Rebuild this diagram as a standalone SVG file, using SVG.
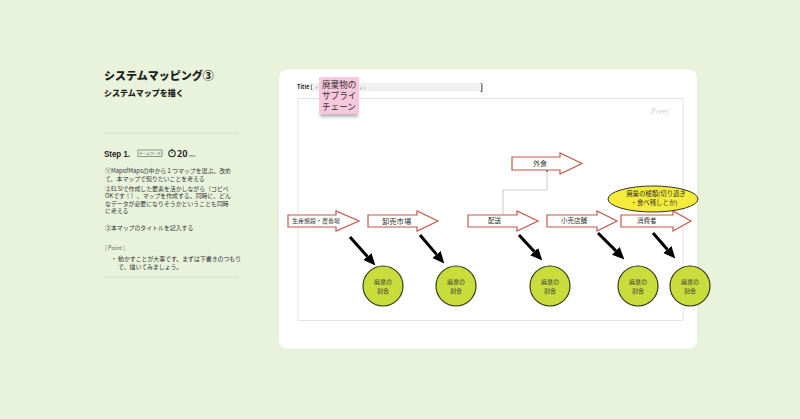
<svg xmlns="http://www.w3.org/2000/svg" width="800" height="419" viewBox="0 0 800 419">
<defs>
<style>
text{font-family:"Noto Sans CJK JP","Noto Sans",sans-serif;fill:#222}
.b{font-weight:bold}
.body{font-size:5.9px;fill:#333}
.flow{fill:#fff;stroke:#c4584a;stroke-width:1.2}
.lab{font-size:6.5px;fill:#333}
.circ{fill:#c8dc3c;stroke:#3a3a1a;stroke-width:1.2}
.ctext{font-size:6px;fill:#333;text-anchor:middle}
.blk{stroke:#000;stroke-width:3;fill:none;marker-end:url(#ah)}
</style>
<marker id="ah" markerUnits="userSpaceOnUse" markerWidth="12" markerHeight="12" refX="0" refY="4.5" orient="auto" viewBox="0 0 10 9">
<path d="M0,0 L10,4.5 L0,9 z" fill="#000"/>
</marker>
<filter id="sh" x="-20%" y="-50%" width="140%" height="200%"><feGaussianBlur stdDeviation="1.5"/></filter>
</defs>
<rect width="800" height="419" fill="#e9f3dc"/>
<!-- left panel -->
<g id="left-panel">
<text x="104" y="80" style="font-size:11px;font-weight:900">システムマッピング③</text>
<text x="104" y="96" style="font-size:8px;font-weight:900">システムマップを描く</text>
<line x1="104" y1="133" x2="238" y2="133" stroke="#cdd6c3" stroke-width="0.8"/>
<text x="104" y="157" class="b" textLength="26" lengthAdjust="spacingAndGlyphs" style="font-size:9px;font-family:'Liberation Sans',sans-serif">Step 1.</text>
<rect x="138" y="150" width="24" height="6.5" fill="none" stroke="#555" stroke-width="0.6"/>
<text x="150" y="154.8" style="font-size:3.6px;text-anchor:middle;fill:#444">チームワーク</text>
<circle cx="172" cy="153.5" r="3.2" fill="none" stroke="#222" stroke-width="1.1"/>
<line x1="172" y1="150.3" x2="172" y2="148.8" stroke="#222" stroke-width="1"/>
<line x1="172" y1="153.5" x2="172" y2="151.6" stroke="#222" stroke-width="0.8"/>
<text x="177" y="157" class="b" style="font-size:9px">20</text>
<text x="189" y="157" style="font-size:3.6px;fill:#444">min</text>
<text class="body"><tspan x="105" y="173">①MapofMapsの中から１つマップを選ぶ。改め</tspan><tspan x="105" y="180.5">て、本マップで知りたいことを考える</tspan></text>
<text class="body"><tspan x="105" y="190.5">②ELSIで作成した要素を活かしながら（コピペ</tspan><tspan x="105" y="198">OKです！）、マップを作成する。同時に、どん</tspan><tspan x="105" y="205.5">なデータが必要になりそうかということも同時</tspan><tspan x="105" y="213">に考える</tspan></text>
<text class="body" x="105" y="230">③本マップのタイトルを記入する</text>
<text x="105" y="250" style="font-size:5.5px;fill:#666">[ Point ]</text>
<text class="body" x="111" y="261">・</text>
<text class="body"><tspan x="118" y="261">動かすことが大事です。まずは下書きのつもり</tspan><tspan x="118" y="268.5">で、描いてみましょう。</tspan></text>
<line x1="104" y1="277" x2="238" y2="277" stroke="#cdd6c3" stroke-width="0.8"/>
</g>
<!-- card -->
<g id="card">
<rect x="279" y="69.5" width="418" height="279" rx="8" fill="#fff"/>
<rect x="298" y="98.5" width="385" height="222" fill="none" stroke="#dcdcdc" stroke-width="0.8"/>
<text x="297" y="89" class="b" style="font-size:5.5px">Title [</text>
<rect x="313" y="83" width="167" height="8.5" fill="#f1f1f1"/>
<text x="315" y="89" style="font-size:3.5px;fill:#999">テ</text>
<text x="359" y="89" style="font-size:3.5px;fill:#999">ょう</text>
<text x="480" y="90" class="b" style="font-size:8px">]</text>
<text x="650" y="114" style="font-size:7px;fill:#d0d0d0">(Free)</text>
</g>
<g id="sticky">
<rect x="320" y="112" width="38" height="5" fill="#888" opacity="0.6" filter="url(#sh)"/>
<rect x="319" y="77" width="40" height="37" fill="#f8c8dc"/>
<text style="font-size:8.6px;fill:#333"><tspan x="322" y="88">廃棄物の</tspan><tspan x="322" y="99">サプライ</tspan><tspan x="322" y="110">チェーン</tspan></text>
</g>
<!-- connectors -->
<g id="connectors">
<polyline points="503,215 503,190 547,190 547,171" fill="none" stroke="#c4c4c4" stroke-width="0.9"/>
<circle cx="547" cy="171" r="0.9" fill="#555"/>
<line class="blk" x1="350" y1="237" x2="367.4" y2="256.5"/>
<line class="blk" x1="420" y1="235" x2="436.5" y2="254.4"/>
<line class="blk" x1="519" y1="235" x2="534.2" y2="251.6"/>
<line class="blk" x1="598" y1="233" x2="615.9" y2="250.9"/>
<line class="blk" x1="653" y1="233" x2="667.4" y2="249.5"/>
</g>
<!-- flow arrows -->
<g id="n-seisan">
<path class="flow" d="M288,215 H336 V211 L359,221 L336,231 V227 H288 Z"/>
<text class="lab" x="292" y="223.2" style="font-size:6px">生産施設・農畜場</text>
</g>
<g id="n-oroshi">
<path class="flow" d="M368,215 H417 V211 L438,221 L417,231 V227 H368 Z"/>
<text class="lab" x="382" y="223.6" style="font-size:7.3px">卸売市場</text>
</g>
<g id="n-haiso">
<path class="flow" d="M468,215 H517 V211 L538,221 L517,231 V227 H468 Z"/>
<text class="lab" x="488" y="223.4">配送</text>
</g>
<g id="n-kouri">
<path class="flow" d="M547,215 H597 V211 L617,221 L597,231 V227 H547 Z"/>
<text class="lab" x="561" y="223.4">小売店舗</text>
</g>
<g id="n-shohi">
<path class="flow" d="M621,215 H673 V211 L691,221 L673,231 V227 H621 Z"/>
<text class="lab" x="637" y="223.4">消費者</text>
</g>
<g id="n-gaishoku">
<path class="flow" d="M512,157 H560 V153 L582,163.5 L560,174 V170 H512 Z"/>
<text class="lab" x="533" y="166" style="font-size:7px">外食</text>
</g>
<g id="n-shurui">
<ellipse cx="653" cy="199" rx="45" ry="13" fill="#f5ec3a" stroke="#333" stroke-width="1"/>
<text style="font-size:6.4px;fill:#333;text-anchor:middle"><tspan x="656" y="196">廃棄の種類(切り過ぎ</tspan><tspan x="654" y="205">・食べ残しとか)</tspan></text>
</g>
<!-- circles -->
<g id="c1"><circle class="circ" cx="383" cy="286" r="20"/><text class="ctext"><tspan x="383" y="284">廃棄の</tspan><tspan x="383" y="292.5">割合</tspan></text></g>
<g id="c2"><circle class="circ" cx="456" cy="286" r="20"/><text class="ctext"><tspan x="456" y="284">廃棄の</tspan><tspan x="456" y="292.5">割合</tspan></text></g>
<g id="c3"><circle class="circ" cx="550" cy="286" r="20"/><text class="ctext"><tspan x="550" y="284">廃棄の</tspan><tspan x="550" y="292.5">割合</tspan></text></g>
<g id="c4"><circle class="circ" cx="638" cy="286" r="20"/><text class="ctext"><tspan x="638" y="284">廃棄の</tspan><tspan x="638" y="292.5">割合</tspan></text></g>
<g id="c5"><circle class="circ" cx="690" cy="286" r="20"/><text class="ctext"><tspan x="690" y="284">廃棄の</tspan><tspan x="690" y="292.5">割合</tspan></text></g>
</svg>
